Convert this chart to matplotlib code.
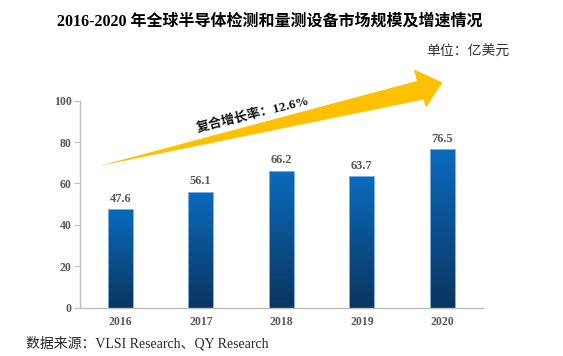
import matplotlib
matplotlib.use("Agg")
import matplotlib.pyplot as plt
import numpy as np
from matplotlib.patches import Polygon
from matplotlib.colors import LinearSegmentedColormap

years = ["2016", "2017", "2018", "2019", "2020"]
values = [47.6, 56.1, 66.2, 63.7, 76.5]
y_ticks = [0, 20, 40, 60, 80, 100]
title = "2016-2020 年全球半导体检测和量测设备市场规模及增速情况"
unit_text = "单位：亿美元"
cagr_text = "复合增长率：12.6%"
source_text = "数据来源：VLSI Research、QY Research"

SERIF_CJK = ["Liberation Serif", "Noto Sans CJK SC"]

W, H = 563, 356
fig = plt.figure(figsize=(W / 100, H / 100), dpi=100)
ax = fig.add_axes([80 / W, 1 - 307.7 / H, (482.7 - 80) / W, (307.7 - 100.7) / H])

x = np.arange(len(years))
bars = ax.bar(x, values, width=0.31, color="#0A5AA0", edgecolor="#7FB2E0", linewidth=0.7, zorder=3)

cmap = LinearSegmentedColormap.from_list("g", ["#0B355F", "#0A6CC0"])
grad = np.linspace(0, 1, 256).reshape(-1, 1)
for b in bars:
    x0, w, h = b.get_x(), b.get_width(), b.get_height()
    b.set_facecolor("none")
    im = ax.imshow(grad, extent=[x0 - 0.05, x0 + w + 0.05, 0, h * 1.03], origin="lower",
                   aspect="auto", cmap=cmap, zorder=2, interpolation="bilinear")
    im.set_clip_path(b)

ax.set_xlim(-0.5, len(years) - 0.5)
ax.set_ylim(0, 100)
ax.set_yticks(y_ticks)
ax.set_xticks(x)
ax.set_xticklabels(years)

for lab in ax.get_xticklabels() + ax.get_yticklabels():
    lab.set_family("Liberation Serif")
    lab.set_fontweight("bold")
    lab.set_fontsize(8.5)
    lab.set_color("#595959")

ax.tick_params(axis="x", length=0, pad=6)
ax.tick_params(axis="y", length=4, width=0.8, color="#BFBFBF", pad=2)
for s in ["top", "right"]:
    ax.spines[s].set_visible(False)
for s in ["left", "bottom"]:
    ax.spines[s].set_color("#BFBFBF")
    ax.spines[s].set_linewidth(1.0)

for xi, v in zip(x, values):
    ax.annotate(f"{v:.1f}", (xi, v), xytext=(0, 3), textcoords="offset points",
                ha="center", va="bottom", family="Liberation Serif",
                fontweight="bold", fontsize=9, color="#595959")

# Decorative growth arrow (figure pixel coordinates, y from top)
pts = [(99, 166), (417, 81), (414, 69.5), (442.5, 82.5), (426, 107.5), (423.5, 99.5)]
poly = Polygon([(px / W, 1 - py / H) for px, py in pts], closed=True,
               transform=fig.transFigure, facecolor="#FFC000", edgecolor="none", zorder=5)
fig.patches.append(poly)

fig.text(252.5 / W, 1 - 114.5 / H, cagr_text, rotation=14, ha="center", va="center",
         family=SERIF_CJK, fontweight="bold", fontsize=9.5, color="#111111",
         rotation_mode="anchor", zorder=4)

fig.text(270 / W, 1 - 22 / H, title, ha="center", va="center",
         family=SERIF_CJK, fontweight="bold", fontsize=11.5, color="#000000")
fig.text(467.5 / W, 1 - 52 / H, unit_text, ha="center", va="center",
         family=SERIF_CJK, fontsize=10, color="#333333")
fig.text(26.5 / W, 1 - 343 / H, source_text, ha="left", va="center",
         family=SERIF_CJK, fontsize=10, color="#262626")

fig.savefig("out.png", dpi=100)
